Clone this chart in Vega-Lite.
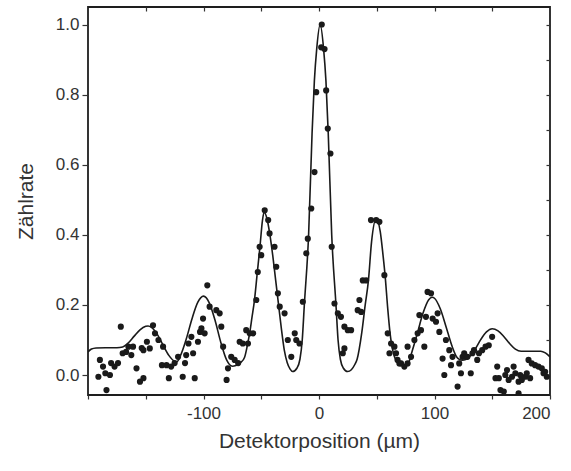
{
  "$schema": "https://vega.github.io/schema/vega-lite/v6.json",
  "width": 462,
  "height": 388,
  "autosize": {"type": "none"},
  "padding": {"left": 88, "top": 7, "right": 21, "bottom": 76},
  "background": "white",
  "config": {
    "view": {"stroke": "#1e1e1e", "strokeWidth": 1.8},
    "font": "Liberation Sans",
    "axis": {"domain": false, "grid": false, "tickColor": "#333", "tickWidth": 1.2, "labelColor": "#333", "titleColor": "#333", "labelFont": "Liberation Sans", "titleFont": "Liberation Sans", "titleFontWeight": "normal"}
  },
  "datasets": {
    "curve": [
      {"x": -200, "y": 0.066}, {"x": -197, "y": 0.074}, {"x": -193, "y": 0.077}, {"x": -185, "y": 0.078}, {"x": -175, "y": 0.078}, {"x": -170, "y": 0.080},
      {"x": -165, "y": 0.092}, {"x": -160, "y": 0.111}, {"x": -155, "y": 0.129}, {"x": -150, "y": 0.139}, {"x": -148, "y": 0.140}, {"x": -145, "y": 0.136},
      {"x": -140, "y": 0.116}, {"x": -135, "y": 0.085}, {"x": -130, "y": 0.056}, {"x": -125, "y": 0.039}, {"x": -123, "y": 0.038}, {"x": -120, "y": 0.055},
      {"x": -115, "y": 0.102}, {"x": -110, "y": 0.160}, {"x": -105, "y": 0.207}, {"x": -100, "y": 0.225}, {"x": -95, "y": 0.206}, {"x": -90, "y": 0.156},
      {"x": -85, "y": 0.093}, {"x": -80, "y": 0.043}, {"x": -75, "y": 0.025}, {"x": -72, "y": 0.027}, {"x": -68, "y": 0.035}, {"x": -64.5, "y": 0.05},
      {"x": -62, "y": 0.085}, {"x": -60, "y": 0.12}, {"x": -58, "y": 0.165}, {"x": -56, "y": 0.21}, {"x": -53.5, "y": 0.29}, {"x": -51, "y": 0.37},
      {"x": -49, "y": 0.44}, {"x": -47.5, "y": 0.465}, {"x": -45, "y": 0.445}, {"x": -42.5, "y": 0.40}, {"x": -40, "y": 0.34}, {"x": -37.5, "y": 0.27},
      {"x": -35, "y": 0.20}, {"x": -32.5, "y": 0.13}, {"x": -30, "y": 0.07}, {"x": -27.5, "y": 0.035}, {"x": -25, "y": 0.017}, {"x": -22.8, "y": 0.01},
      {"x": -19, "y": 0.02}, {"x": -16.5, "y": 0.045}, {"x": -14.5, "y": 0.10}, {"x": -12.7, "y": 0.20}, {"x": -9, "y": 0.40}, {"x": -6, "y": 0.69},
      {"x": -4, "y": 0.84}, {"x": -2, "y": 0.93}, {"x": 1, "y": 1.0}, {"x": 4, "y": 0.93}, {"x": 6, "y": 0.84}, {"x": 8, "y": 0.69},
      {"x": 11, "y": 0.40}, {"x": 14.7, "y": 0.20}, {"x": 16.5, "y": 0.10}, {"x": 18.5, "y": 0.045}, {"x": 21, "y": 0.02}, {"x": 24.8, "y": 0.01},
      {"x": 28, "y": 0.015}, {"x": 31, "y": 0.03}, {"x": 33, "y": 0.045}, {"x": 37, "y": 0.12}, {"x": 40, "y": 0.20}, {"x": 42.8, "y": 0.27},
      {"x": 45.5, "y": 0.38}, {"x": 49.5, "y": 0.446}, {"x": 53, "y": 0.41}, {"x": 55.5, "y": 0.34}, {"x": 57.2, "y": 0.285}, {"x": 59.5, "y": 0.19},
      {"x": 61.5, "y": 0.12}, {"x": 64.4, "y": 0.062}, {"x": 67, "y": 0.04}, {"x": 71, "y": 0.028}, {"x": 75, "y": 0.025},
      {"x": 77, "y": 0.030}, {"x": 80, "y": 0.061}, {"x": 85, "y": 0.117}, {"x": 90, "y": 0.176}, {"x": 95, "y": 0.215},
      {"x": 98, "y": 0.222}, {"x": 100, "y": 0.219}, {"x": 105, "y": 0.189}, {"x": 110, "y": 0.138}, {"x": 115, "y": 0.084}, {"x": 120, "y": 0.048},
      {"x": 124, "y": 0.042}, {"x": 127, "y": 0.044}, {"x": 130, "y": 0.051}, {"x": 135, "y": 0.073}, {"x": 140, "y": 0.101}, {"x": 145, "y": 0.123},
      {"x": 150, "y": 0.132}, {"x": 155, "y": 0.126}, {"x": 160, "y": 0.110}, {"x": 165, "y": 0.090}, {"x": 170, "y": 0.074}, {"x": 175, "y": 0.068},
      {"x": 185, "y": 0.068}, {"x": 192, "y": 0.068}, {"x": 196, "y": 0.063}, {"x": 200, "y": 0.052}
    ],
    "pts": [
      {"x": -191, "y": -0.005}, {"x": -189.7, "y": 0.043}, {"x": -187, "y": 0.024}, {"x": -185, "y": 0.005}, {"x": -184, "y": -0.043}, {"x": -181, "y": 0.0},
      {"x": -180, "y": 0.034}, {"x": -177, "y": 0.024}, {"x": -174, "y": 0.034}, {"x": -171.6, "y": 0.138}, {"x": -170, "y": 0.062}, {"x": -167, "y": 0.066},
      {"x": -165, "y": 0.081}, {"x": -162.5, "y": 0.057}, {"x": -161, "y": 0.081}, {"x": -158, "y": 0.019}, {"x": -155, "y": -0.019}, {"x": -153.5, "y": 0.077},
      {"x": -152, "y": -0.009}, {"x": -152, "y": 0.071}, {"x": -149, "y": 0.095}, {"x": -146.5, "y": 0.076}, {"x": -143.7, "y": 0.142}, {"x": -142, "y": 0.119},
      {"x": -139, "y": 0.1}, {"x": -136, "y": 0.028}, {"x": -135, "y": 0.081}, {"x": -132, "y": 0.028}, {"x": -130, "y": -0.009}, {"x": -128, "y": 0.024},
      {"x": -125, "y": 0.034}, {"x": -122, "y": 0.052}, {"x": -118, "y": -0.005}, {"x": -116, "y": 0.034}, {"x": -115, "y": 0.057}, {"x": -113, "y": 0.09},
      {"x": -110.5, "y": 0.109}, {"x": -109, "y": 0.062}, {"x": -107.6, "y": -0.009}, {"x": -104.8, "y": 0.095}, {"x": -103, "y": 0.123}, {"x": -101.8, "y": 0.133},
      {"x": -100.4, "y": 0.161}, {"x": -99, "y": 0.119}, {"x": -96.7, "y": 0.256}, {"x": -94.7, "y": 0.195}, {"x": -88.9, "y": 0.185}, {"x": -86, "y": 0.176},
      {"x": -84.6, "y": 0.138}, {"x": -83, "y": 0.081}, {"x": -80, "y": -0.014}, {"x": -78.8, "y": 0.019}, {"x": -76, "y": 0.052}, {"x": -73, "y": 0.043},
      {"x": -70, "y": 0.034}, {"x": -68.7, "y": 0.095}, {"x": -66, "y": 0.09}, {"x": -63, "y": 0.128},
      {"x": -61.5, "y": 0.09}, {"x": -60, "y": 0.119}, {"x": -57, "y": 0.119}, {"x": -54.3, "y": 0.214}, {"x": -53, "y": 0.294}, {"x": -51.4, "y": 0.366},
      {"x": -50, "y": 0.342}, {"x": -47, "y": 0.47}, {"x": -44, "y": 0.442}, {"x": -42.8, "y": 0.404}, {"x": -38.5, "y": 0.366}, {"x": -37, "y": 0.309},
      {"x": -35.6, "y": 0.233}, {"x": -34, "y": 0.195}, {"x": -29.8, "y": 0.176}, {"x": -27, "y": 0.1}, {"x": -24, "y": 0.052}, {"x": -21, "y": 0.119},
      {"x": -19.7, "y": 0.1}, {"x": -16.9, "y": 0.09}, {"x": -14, "y": 0.209}, {"x": -11, "y": 0.347}, {"x": -9.7, "y": 0.389}, {"x": -6.7, "y": 0.475},
      {"x": -3.9, "y": 0.579}, {"x": -2.4, "y": 0.807}, {"x": 1.9, "y": 0.935}, {"x": 2.4, "y": 1.0}, {"x": 4.8, "y": 0.93}, {"x": 6.2, "y": 0.812},
      {"x": 7.6, "y": 0.703}, {"x": 9.9, "y": 0.632}, {"x": 11, "y": 0.366}, {"x": 13.4, "y": 0.204}, {"x": 16.3, "y": 0.176}, {"x": 19, "y": 0.166},
      {"x": 20.6, "y": 0.062}, {"x": 22, "y": 0.138}, {"x": 22, "y": 0.076}, {"x": 24.9, "y": 0.128}, {"x": 27.8, "y": 0.128}, {"x": 33.5, "y": 0.185},
      {"x": 35, "y": 0.214}, {"x": 36.5, "y": 0.18}, {"x": 37.9, "y": 0.27}, {"x": 40.8, "y": 0.27}, {"x": 45, "y": 0.442}, {"x": 49.5, "y": 0.442},
      {"x": 52.3, "y": 0.437}, {"x": 56.6, "y": 0.285}, {"x": 59.5, "y": 0.119}, {"x": 61, "y": 0.062}, {"x": 62.4, "y": 0.09}, {"x": 66.7, "y": 0.062},
      {"x": 69.6, "y": 0.033},
      {"x": 65.3, "y": 0.081}, {"x": 68, "y": 0.043}, {"x": 71, "y": 0.033}, {"x": 73.9, "y": 0.024}, {"x": 76.7, "y": 0.033}, {"x": 76.7, "y": 0.081},
      {"x": 79.7, "y": 0.052}, {"x": 82.6, "y": 0.1}, {"x": 85.4, "y": 0.119}, {"x": 86.9, "y": 0.171}, {"x": 88.3, "y": 0.128}, {"x": 91.2, "y": 0.081},
      {"x": 92.6, "y": 0.166}, {"x": 94, "y": 0.237}, {"x": 97, "y": 0.233}, {"x": 98.4, "y": 0.161}, {"x": 101.3, "y": 0.152}, {"x": 102.7, "y": 0.176},
      {"x": 104.2, "y": 0.123}, {"x": 107, "y": 0.047}, {"x": 108.5, "y": 0.0}, {"x": 109.9, "y": 0.1}, {"x": 112.8, "y": 0.071}, {"x": 114.3, "y": 0.028},
      {"x": 115.6, "y": 0.052}, {"x": 120, "y": -0.033}, {"x": 121.4, "y": 0.033}, {"x": 122.9, "y": 0.005}, {"x": 124.3, "y": 0.052}, {"x": 125.7, "y": 0.062},
      {"x": 128.5, "y": 0.052}, {"x": 131.4, "y": 0.005}, {"x": 132.8, "y": 0.062}, {"x": 134.2, "y": 0.071}, {"x": 137, "y": 0.043}, {"x": 138.5, "y": 0.062},
      {"x": 141.3, "y": 0.071}, {"x": 144.2, "y": 0.081}, {"x": 147, "y": 0.085}, {"x": 149.9, "y": 0.109}, {"x": 152.8, "y": -0.009}, {"x": 154.3, "y": 0.024},
      {"x": 155.7, "y": -0.009}, {"x": 157.1, "y": -0.043}, {"x": 160, "y": -0.047}, {"x": 161.3, "y": 0.0}, {"x": 162.8, "y": 0.014}, {"x": 164.2, "y": -0.014},
      {"x": 167.1, "y": -0.005}, {"x": 168.5, "y": 0.024}, {"x": 170, "y": 0.005}, {"x": 172.8, "y": -0.019}, {"x": 172.8, "y": -0.052}, {"x": 174.2, "y": 0.0},
      {"x": 175.6, "y": -0.014}, {"x": 178.5, "y": -0.005}, {"x": 179.9, "y": 0.005}, {"x": 181.4, "y": 0.043}, {"x": 182.8, "y": -0.009}, {"x": 184.2, "y": 0.033},
      {"x": 187.1, "y": 0.028}, {"x": 190, "y": 0.024}, {"x": 192.9, "y": 0.019}, {"x": 194.4, "y": 0.005}, {"x": 195.8, "y": 0.009}, {"x": 197.2, "y": -0.005}
    ]
  },
  "layer": [
    {
      "data": {"name": "curve"},
      "mark": {"type": "line", "color": "#1a1a1a", "strokeWidth": 1.6, "interpolate": "monotone", "clip": true},
      "encoding": {
        "x": {"field": "x", "type": "quantitative", "scale": {"domain": [-200, 200], "nice": false},
          "axis": {"orient": "bottom", "values": [-200, -150, -100, -50, 0, 50, 100, 150, 200], "labelExpr": "datum.value % 100 === 0 && datum.value > -200 ? '' + datum.value : ''", "tickSize": 4, "labelPadding": 6, "labelFontSize": 17, "title": "Detektorposition (µm)", "titleFontSize": 21, "titlePadding": 9}},
        "y": {"field": "y", "type": "quantitative", "scale": {"domain": [-0.057, 1.05], "nice": false, "zero": false},
          "axis": {"orient": "left", "values": [0, 0.2, 0.4, 0.6, 0.8, 1.0], "format": ".1f", "tickSize": 6, "labelPadding": 3, "labelFontSize": 17, "title": "Zählrate", "titleFontSize": 21, "titlePadding": 19}}
      }
    },
    {
      "data": {"name": "pts"},
      "mark": {"type": "circle", "color": "#1a1a1a", "opacity": 1, "size": 38, "clip": true},
      "encoding": {
        "x": {"field": "x", "type": "quantitative",
          "axis": {"orient": "top", "values": [-150, -100, -50, 0, 50, 100, 150], "labels": false, "tickSize": -4, "title": null}},
        "y": {"field": "y", "type": "quantitative",
          "axis": {"orient": "right", "values": [0, 0.1, 0.2, 0.3, 0.4, 0.5, 0.6, 0.7, 0.8, 0.9, 1.0], "labels": false, "tickSize": -4, "title": null}}
      }
    }
  ],
  "resolve": {"axis": {"x": "independent", "y": "independent"}}
}
